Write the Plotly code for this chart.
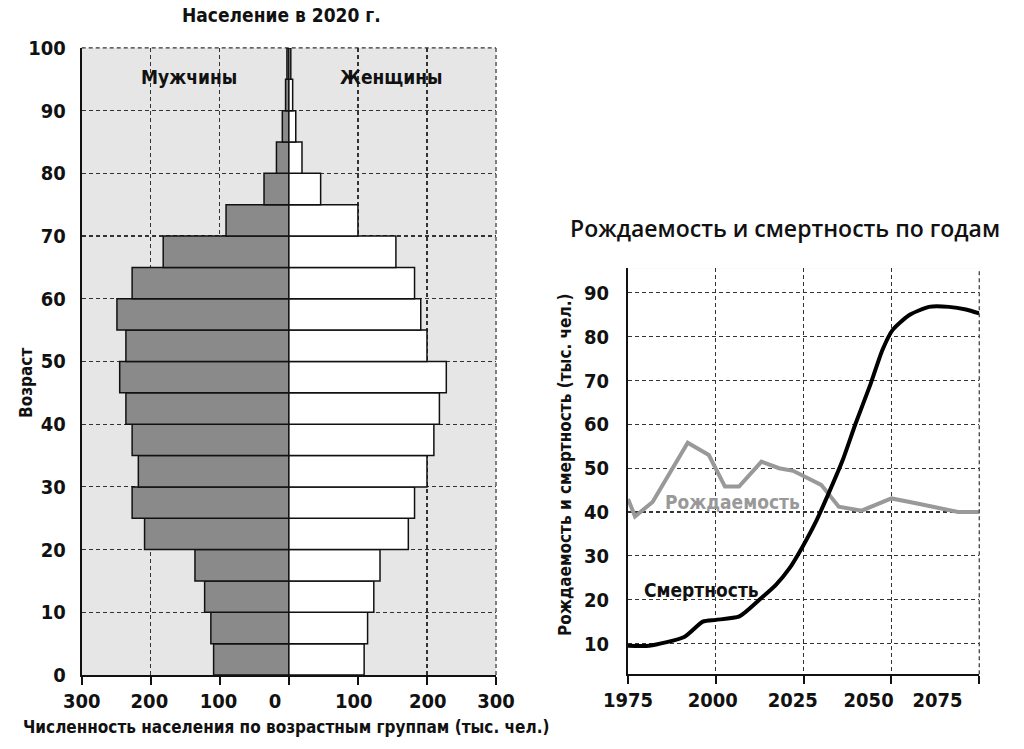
import plotly.graph_objects as go

# ---------------- data ----------------
age_bins = [2.5, 7.5, 12.5, 17.5, 22.5, 27.5, 32.5, 37.5, 42.5, 47.5,
            52.5, 57.5, 62.5, 67.5, 72.5, 77.5, 82.5, 87.5, 92.5, 97.5]
male = [109, 113, 122, 136, 209, 227, 218, 227, 236, 245,
        236, 249, 227, 182, 91, 36, 18, 9.5, 4.8, 2.8]
female = [109, 114, 123, 132, 173, 182, 200, 210, 218, 228,
          200, 191, 182, 155, 100, 46, 19, 10, 5.5, 2.8]

birth_years = [1975, 1977, 1982, 1992, 1998, 2002.6, 2006.6, 2013, 2018, 2022,
               2030, 2035, 2041.5, 2050, 2057, 2069, 2075]
births = [43, 39, 42.3, 55.8, 53, 45.8, 45.8, 51.5, 50, 49.4,
          46.2, 41.2, 40.3, 43.1, 42, 40, 40]

death_years = [1975, 1981, 1991, 1996.3, 2000, 2006.7, 2012.4, 2017.1, 2021, 2024.7,
               2028.5, 2032.3, 2036.1, 2039.8, 2044.1, 2047.4, 2050.3, 2055, 2060.7,
               2066.4, 2071.2, 2075]
deaths = [9.5, 9.5, 11.5, 15, 15.4, 16.2, 20, 23.4, 27.2, 32.1,
          37.8, 44.6, 51.8, 60.2, 69.3, 76.9, 81.5, 84.9, 86.8,
          86.8, 86.2, 85.3]

pyr_tick_vals = [-300, -200, -100, 0, 100, 200, 300]
pyr_label_pos = [-300, -202, -102, -20, 94, 201, 300]
pyr_label_text = ["300", "200", "100", "0", "100", "200", "300"]
age_ticks = list(range(0, 101, 10))

year_ticks = [1975, 2000, 2025, 2050, 2075]
year_label_pos = [1975, 1999.1, 2021.9, 2043.5, 2063.1]
year_label_text = ["1975", "2000", "2025", "2050", "2075"]
rate_ticks = [10, 20, 30, 40, 50, 60, 70, 80, 90]

FONT = "DejaVu Sans Condensed, DejaVu Sans, sans-serif"
TFONT = "Open Sans, DejaVu Sans, sans-serif"
GRID = dict(showgrid=True, gridcolor="#333333", gridwidth=1.2, griddash="4px,3px")
DASH_LINE = dict(color="#333333", width=1.2, dash="4px,3px")

fig = go.Figure()

fig.add_trace(go.Bar(y=age_bins, x=[-v for v in male], orientation="h",
                     marker=dict(color="#8a8a8a", line=dict(color="#111111", width=1.5)),
                     width=5, xaxis="x", yaxis="y", showlegend=False, hoverinfo="skip"))
fig.add_trace(go.Bar(y=age_bins, x=female, orientation="h",
                     marker=dict(color="#ffffff", line=dict(color="#111111", width=1.5)),
                     width=5, xaxis="x", yaxis="y", showlegend=False, hoverinfo="skip"))
fig.add_trace(go.Scatter(x=[0], y=[0], mode="markers", marker=dict(opacity=0),
                         xaxis="x3", yaxis="y", showlegend=False, hoverinfo="skip"))

fig.add_trace(go.Scatter(x=birth_years, y=births, mode="lines",
                         line=dict(color="#999999", width=4),
                         xaxis="x2", yaxis="y2", showlegend=False, hoverinfo="skip"))
fig.add_trace(go.Scatter(x=death_years, y=deaths, mode="lines",
                         line=dict(color="#000000", width=4, shape="spline", smoothing=0.6),
                         xaxis="x2", yaxis="y2", showlegend=False, hoverinfo="skip"))
fig.add_trace(go.Scatter(x=[2000], y=[50], mode="markers", marker=dict(opacity=0),
                         xaxis="x4", yaxis="y2", showlegend=False, hoverinfo="skip"))

tickfont = dict(family=FONT, size=20, color="#111111", weight="bold")

fig.update_layout(
    template="none",
    width=1024, height=749,
    margin=dict(l=0, r=0, t=0, b=0, autoexpand=False),
    paper_bgcolor="white",
    plot_bgcolor="#e6e6e6",
    barmode="overlay",
    bargap=0,
    showlegend=False,
    font=dict(family=FONT, color="#111111"),
    xaxis=dict(domain=[0.0798, 0.4844], range=[-300, 300], tickvals=pyr_tick_vals,
               showticklabels=False, ticks="outside", ticklen=8, tickwidth=2,
               tickcolor="#111111", showline=True, linecolor="#111111", linewidth=2,
               zeroline=False, anchor="y", automargin=False, **GRID),
    yaxis=dict(domain=[0.0988, 0.936], range=[0, 100], tickvals=age_ticks,
               ticks="outside", ticklen=10, tickcolor="rgba(0,0,0,0)",
               tickfont=tickfont, showline=True, linecolor="#111111", linewidth=2,
               zeroline=False, anchor="x", automargin=False, **GRID),
    xaxis3=dict(overlaying="x", anchor="y", side="bottom", range=[-300, 300],
                tickvals=pyr_label_pos, ticktext=pyr_label_text, tickfont=tickfont,
                showgrid=False, showline=False, zeroline=False, ticks="outside",
                ticklen=8, tickcolor="rgba(0,0,0,0)", automargin=False),
    xaxis2=dict(domain=[0.6133, 0.9563], range=[1975, 2075], tickvals=year_ticks,
                showticklabels=False, ticks="outside", ticklen=8, tickwidth=2,
                tickcolor="#111111", showline=True, linecolor="#111111", linewidth=2,
                zeroline=False, anchor="y2", automargin=False, **GRID),
    yaxis2=dict(domain=[0.0998, 0.6418], range=[3, 95.6], tickvals=rate_ticks,
                ticks="outside", ticklen=13, tickcolor="rgba(0,0,0,0)",
                tickfont=tickfont, showline=True, linecolor="#111111", linewidth=2,
                zeroline=False, anchor="x2", automargin=False, **GRID),
    xaxis4=dict(overlaying="x2", anchor="y2", side="bottom", range=[1975, 2075],
                tickvals=year_label_pos, ticktext=year_label_text, tickfont=tickfont,
                showgrid=False, showline=False, zeroline=False, ticks="outside",
                ticklen=8, tickcolor="rgba(0,0,0,0)", automargin=False),
)

# right plot white background
fig.add_shape(type="rect", xref="x2 domain", yref="y2 domain", x0=0, x1=1, y0=0, y1=1,
              fillcolor="white", line=dict(width=0), layer="below")
# dashed grid lines on the outer edges
fig.add_shape(type="line", xref="x domain", yref="y domain", x0=0, x1=1, y0=1, y1=1,
              line=DASH_LINE, layer="below")
fig.add_shape(type="line", xref="x domain", yref="y domain", x0=1, x1=1, y0=0, y1=1,
              line=DASH_LINE, layer="below")
fig.add_shape(type="line", xref="x2 domain", yref="y2 domain", x0=1, x1=1, y0=0, y1=1,
              line=DASH_LINE, layer="above")

def ann(text, x, y, size, family=FONT, color="#111111", weight="bold", angle=0,
        xref="paper", yref="paper"):
    fig.add_annotation(text=text, x=x, y=y, xref=xref, yref=yref, showarrow=False,
                       xanchor="center", yanchor="middle", textangle=angle,
                       font=dict(family=family, size=size, color=color, weight=weight))

ann("Население в 2020 г.", 281/1024, 1-15/749, 19)
ann("Рождаемость и смертность по годам", 785/1024, 1-228/749, 23, family=TFONT, weight=600)
ann("Численность населения по возрастным группам (тыс. чел.)", 286/1024, 1-727/749, 17)
ann("Возраст", 26/1024, 1-383/749, 17, angle=-90)
ann("Рождаемость и смертность (тыс. чел.)", 565/1024, 1-465/749, 17, angle=-90)

ann("Мужчины", -144.5, 95.4, 19, xref="x", yref="y")
ann("Женщины", 148, 95.4, 19, xref="x", yref="y")
ann("Рождаемость", 2004.7, 42.3, 19, color="#999999", xref="x2", yref="y2")
ann("Смертность", 1995.9, 22.2, 19, xref="x2", yref="y2")

fig.write_html("out.html",
               config={"displayModeBar": False, "staticPlot": True},
               post_script="document.body.style.margin='0';document.body.style.padding='0';")
